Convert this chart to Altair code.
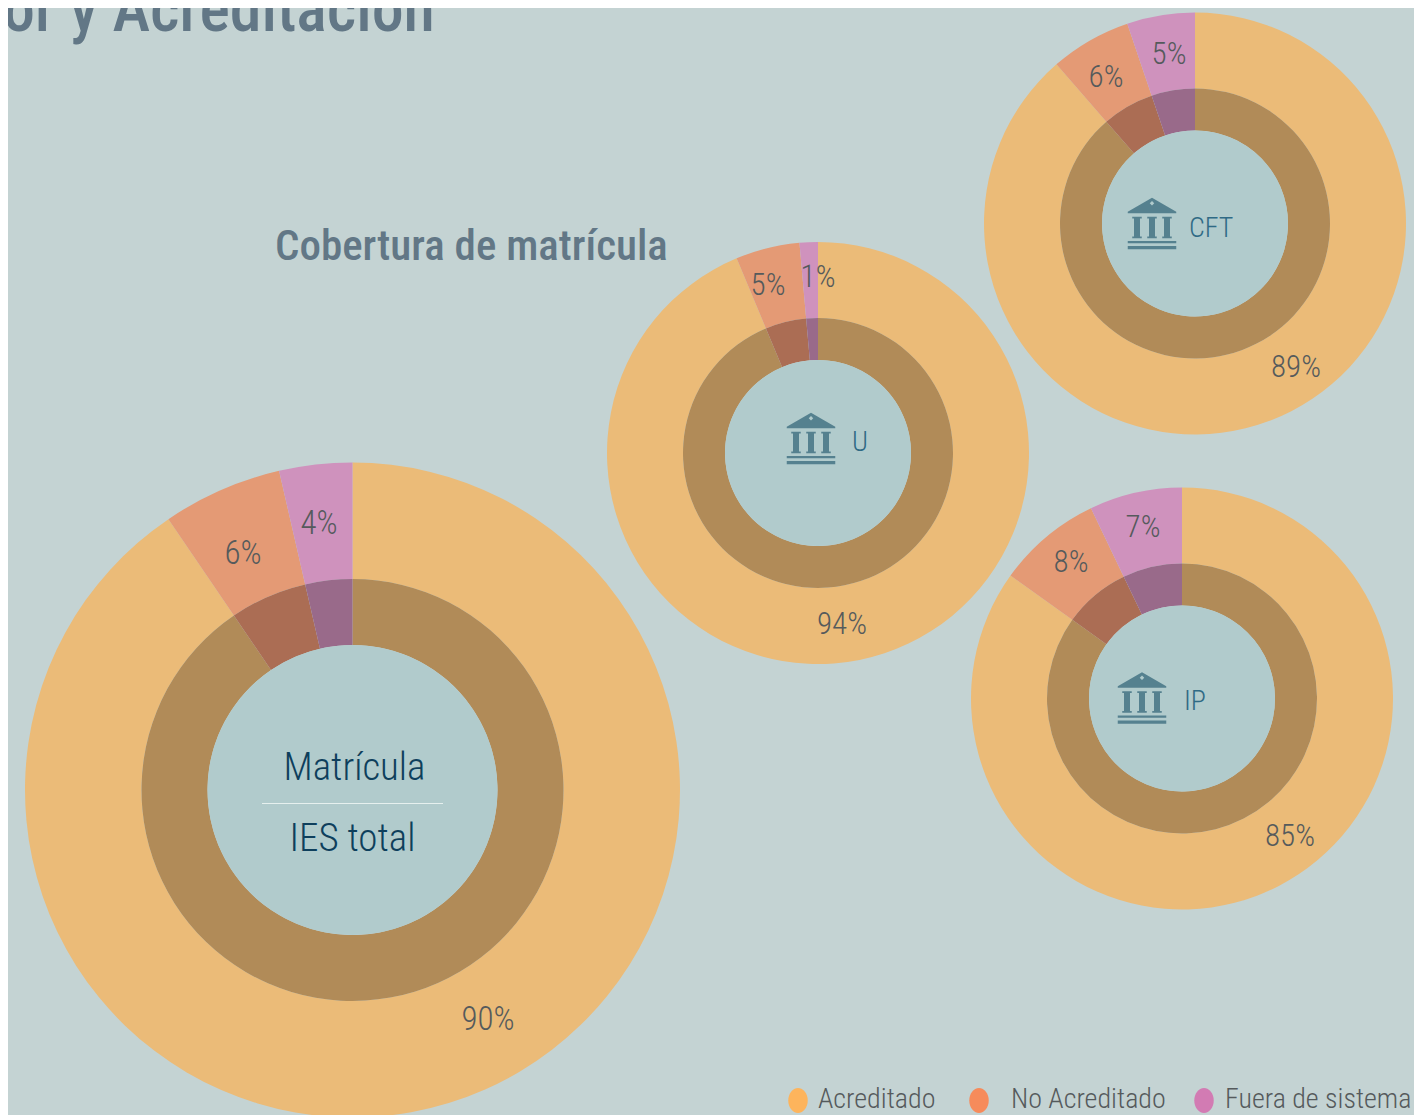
import altair as alt
import pandas as pd

# --- chart values ---
DONUTS = ["Total", "U", "CFT", "IP"]
SERIES = ["Acreditado", "No Acreditado", "Fuera de sistema"]
SHARE_ACRED = [90.5, 93.7, 88.6, 84.9]
SHARE_NOACRED = [5.9, 4.9, 6.2, 8.0]
SHARE_FUERA = [3.6, 1.4, 5.2, 7.1]
LABEL_ACRED = ["90%", "94%", "89%", "85%"]
LABEL_NOACRED = ["6%", "5%", "6%", "8%"]
LABEL_FUERA = ["4%", "1%", "5%", "7%"]

# --- layout, in reference picture coordinates ---
W, H = 1422, 1115
CENTER_X = [352.5, 818, 1195, 1182]
CENTER_Y = [790, 453, 223.5, 698.5]
R_OUTER = [327.5, 211, 211, 211]
R_RING = [211, 135, 135, 135]
R_HOLE = [145, 93, 93, 93]
LABEL_X = [[488, 243, 319], [842, 768, 818], [1296, 1106, 1169], [1290, 1071, 1143]]
LABEL_Y = [[1020, 554, 524], [625, 286, 278], [368, 78, 55], [837, 563, 528]]
ICON_X = [811, 1152, 1142]
ICON_Y = [438.5, 223.5, 698]
ICON_NAMES = ["U", "CFT", "IP"]
ICON_TEXT_X = [852, 1189, 1184]
ICON_TEXT_Y = [451, 237, 710]

# --- colours ---
BG = "#c4d3d3"
HOLE = "#b1cbcc"
OUTER_COLORS = ["#ebbb78", "#e49a75", "#cf92bd"]
RING_COLORS = ["#b18b58", "#ab6d54", "#996a8a"]
LEGEND_COLORS = ["#fdb45c", "#f68b5b", "#d27bb3"]
GRAY = "#555a5c"
SLATE = "#627786"
NAVY = "#0e3f5c"
ICON = "#55818f"
FONT = "Roboto Condensed, Roboto"

rows = []
for i, d in enumerate(DONUTS):
    vals = [SHARE_ACRED[i], SHARE_NOACRED[i], SHARE_FUERA[i]]
    labs = [LABEL_ACRED[i], LABEL_NOACRED[i], LABEL_FUERA[i]]
    start = 0.0
    for j, s in enumerate(SERIES):
        rows.append(dict(donut=d, serie=s, start=start, end=start + vals[j],
                         cx=CENTER_X[i], cy=CENTER_Y[i], label=labs[j],
                         lx=LABEL_X[i][j], ly=LABEL_Y[i][j]))
        start += vals[j]
df = pd.DataFrame(rows)

xs = alt.Scale(domain=[0, W], range=[-8, W - 8])
ys = alt.Scale(domain=[0, H], range=[-8, H - 8])
X = lambda f: alt.X(f, type="quantitative", scale=xs, axis=None)
Y = lambda f: alt.Y(f, type="quantitative", scale=ys, axis=None)
TAU = 6.283185307
theta = alt.Theta("start:Q", scale=alt.Scale(domain=[0, 100], range=[0, TAU]))


def ring(name, r_out, r_in, colors):
    return (
        alt.Chart(df[df.donut == name])
        .mark_arc(radius=r_out, radius2=r_in, stroke=None)
        .encode(
            x=X("cx"), y=Y("cy"), theta=theta, theta2="end:Q",
            color=alt.Color("serie:N", legend=None,
                            scale=alt.Scale(domain=SERIES, range=colors)),
        )
    )


layers = []
for i, d in enumerate(DONUTS):
    layers.append(ring(d, R_OUTER[i], R_RING[i], OUTER_COLORS))
    layers.append(ring(d, R_RING[i], R_HOLE[i], RING_COLORS))
    layers.append(
        alt.Chart(df[(df.donut == d) & (df.serie == SERIES[0])])
        .mark_arc(radius=R_HOLE[i], radius2=0, theta=0, theta2=TAU, color=HOLE)
        .encode(x=X("cx"), y=Y("cy"))
    )

layers.append(
    alt.Chart(df[df.donut == "Total"])
    .mark_text(font=FONT, fontSize=33, fontWeight=300, color=GRAY)
    .encode(x=X("lx"), y=Y("ly"), text="label:N")
)
layers.append(
    alt.Chart(df[df.donut != "Total"])
    .mark_text(font=FONT, fontSize=31, fontWeight=300, color=GRAY)
    .encode(x=X("lx"), y=Y("ly"), text="label:N")
)

ICON_PATH = (
    "M0,-1.03L.97,-.47L.97,-.41L-.97,-.41L-.97,-.47Z"
    "M0,-.9L-.09,-.81L0,-.72L.09,-.81Z"
    "M-.79,-.27H-.41V-.2H-.48V.52H-.41V.59H-.79V.52H-.72V-.2H-.79Z"
    "M-.19,-.27H.19V-.2H.12V.52H.19V.59H-.19V.52H-.12V-.2H-.19Z"
    "M.41,-.27H.79V-.2H.72V.52H.79V.59H.41V.52H.48V-.2H.41Z"
    "M-.97,.7H.97V.79H-.97Z"
    "M-.97,.9H.97V1.03H-.97Z"
)
icons = pd.DataFrame(dict(name=ICON_NAMES, x=ICON_X, y=ICON_Y, tx=ICON_TEXT_X, ty=ICON_TEXT_Y))
layers.append(
    alt.Chart(icons)
    .mark_point(shape=ICON_PATH, filled=True, size=2500, color=ICON, opacity=1, strokeWidth=0)
    .encode(x=X("x"), y=Y("y"))
)
layers.append(
    alt.Chart(icons)
    .mark_text(font=FONT, fontSize=28, fontWeight=300, align="left", baseline="alphabetic", color="#2f6a85")
    .encode(x=X("tx"), y=Y("ty"), text="name:N")
)

# centre of the big ring
center = pd.DataFrame(dict(t=["Matrícula", "IES total"], x=[354.5, 352.5], y=[780, 851]))
layers.append(
    alt.Chart(center)
    .mark_text(font=FONT, fontSize=39, fontWeight=300, baseline="alphabetic", color=NAVY)
    .encode(x=X("x"), y=Y("y"), text="t:N")
)
layers.append(
    alt.Chart(pd.DataFrame(dict(x=[262], x2=[443], y=[803.5])))
    .mark_rule(color="#e6f0ee", strokeWidth=1.2)
    .encode(x=X("x"), x2="x2:Q", y=Y("y"))
)

# titles
titles = pd.DataFrame(dict(t=["or y Acreditación", "Cobertura de matrícula"],
                           x=[3, 275], y=[31, 260], s=[64, 43]))
for _, r in titles.iterrows():
    layers.append(
        alt.Chart(titles[titles.t == r.t])
        .mark_text(font=FONT, fontSize=int(r.s), fontWeight=500, align="left",
                   baseline="alphabetic", color=SLATE)
        .encode(x=X("x"), y=Y("y"), text="t:N")
    )

# legend
LEG_X = [798, 979, 1204]
LEG_TX = [818, 1011, 1225]
LEG_Y = 1100.5
LEG_TY = 1108
legend = pd.DataFrame(dict(s=SERIES, x=LEG_X, tx=LEG_TX, y=[LEG_Y] * 3, ty=[LEG_TY] * 3))
layers.append(
    alt.Chart(legend)
    .mark_point(shape="M0,-1A.78,1 0 1,1 0,1A.78,1 0 1,1 0,-1Z", filled=True, size=625,
                opacity=1, strokeWidth=0)
    .encode(x=X("x"), y=Y("y"),
            color=alt.Color("s:N", legend=None, scale=alt.Scale(domain=SERIES, range=LEGEND_COLORS)))
)
layers.append(
    alt.Chart(legend)
    .mark_text(font=FONT, fontSize=28, fontWeight=300, align="left", baseline="alphabetic", color=GRAY)
    .encode(x=X("tx"), y=Y("ty"), text="s:N")
)

chart = (
    alt.layer(*layers)
    .resolve_scale(color="independent")
    .properties(width=W - 16, height=H - 8, background=BG, padding=0, autosize="none")
    .configure_view(stroke=None, fill=BG)
)
chart.save("out.html", embed_options={"renderer": "svg", "actions": False})
